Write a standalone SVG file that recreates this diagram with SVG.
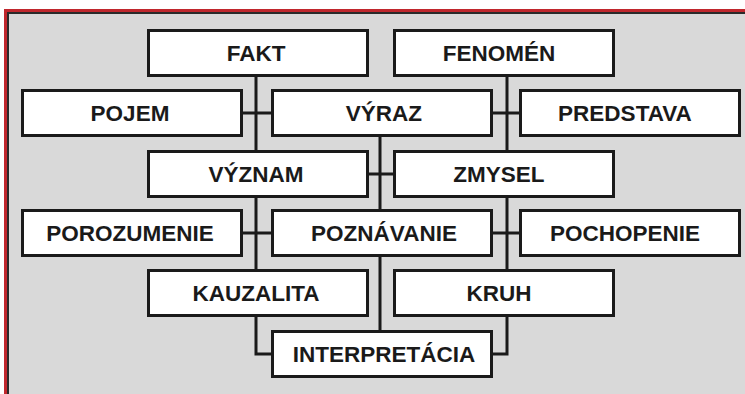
<svg xmlns="http://www.w3.org/2000/svg" width="745" height="394" viewBox="0 0 745 394">
<style>
.box rect{fill:#ffffff;stroke:#1a1a1a;stroke-width:3}
.box text{font-family:"Liberation Sans",Arial,sans-serif;font-weight:bold;font-size:22.5px;fill:#1a1a1a;text-anchor:middle}
#connectors path{fill:none;stroke:#1a1a1a;stroke-width:3}
</style>
<rect x="0" y="0" width="745" height="394" fill="#ffffff"/>
<rect x="4" y="9" width="741" height="385" fill="#c0272d"/>
<rect x="7" y="12" width="738" height="382" fill="#2a2a2a"/>
<rect x="9" y="14" width="736" height="380" fill="#d9d9d9"/>
<g id="connectors">
<path d="M256 76 V151.5 M241.5 113 H272.5 M256 196.5 V270.5 M241.5 233 H272.5 M256 315.5 V354 H272.5"/>
<path d="M507 76 V151.5 M491.5 113 H520.5 M507 196.5 V270.5 M491.5 233 H520.5 M507 315.5 V354 H491.5"/>
<path d="M380 135.5 V210.5 M367.5 174 H394.5 M380 255.5 V331.5"/>
</g>
<g id="fakt" class="box"><rect x="148.5" y="30.5" width="219" height="45"/><text x="256" y="61">FAKT</text></g>
<g id="fenomen" class="box"><rect x="394.5" y="30.5" width="219" height="45"/><text x="499" y="61">FENOMÉN</text></g>
<g id="pojem" class="box"><rect x="22.5" y="90.5" width="219" height="45"/><text x="130" y="121">POJEM</text></g>
<g id="vyraz" class="box"><rect x="272.5" y="90.5" width="219" height="45"/><text x="384" y="121">VÝRAZ</text></g>
<g id="predstava" class="box"><rect x="520.5" y="90.5" width="219" height="45"/><text x="625" y="121">PREDSTAVA</text></g>
<g id="vyznam" class="box"><rect x="148.5" y="151.5" width="219" height="45"/><text x="256" y="182">VÝZNAM</text></g>
<g id="zmysel" class="box"><rect x="394.5" y="151.5" width="219" height="45"/><text x="499" y="182">ZMYSEL</text></g>
<g id="porozumenie" class="box"><rect x="22.5" y="210.5" width="219" height="45"/><text x="130" y="241">POROZUMENIE</text></g>
<g id="poznavanie" class="box"><rect x="272.5" y="210.5" width="219" height="45"/><text x="384" y="241">POZNÁVANIE</text></g>
<g id="pochopenie" class="box"><rect x="520.5" y="210.5" width="219" height="45"/><text x="625" y="241">POCHOPENIE</text></g>
<g id="kauzalita" class="box"><rect x="148.5" y="270.5" width="219" height="45"/><text x="256" y="301">KAUZALITA</text></g>
<g id="kruh" class="box"><rect x="394.5" y="270.5" width="219" height="45"/><text x="499" y="301">KRUH</text></g>
<g id="interpretacia" class="box"><rect x="272.5" y="331.5" width="219" height="45"/><text x="384" y="362">INTERPRETÁCIA</text></g>
</svg>
